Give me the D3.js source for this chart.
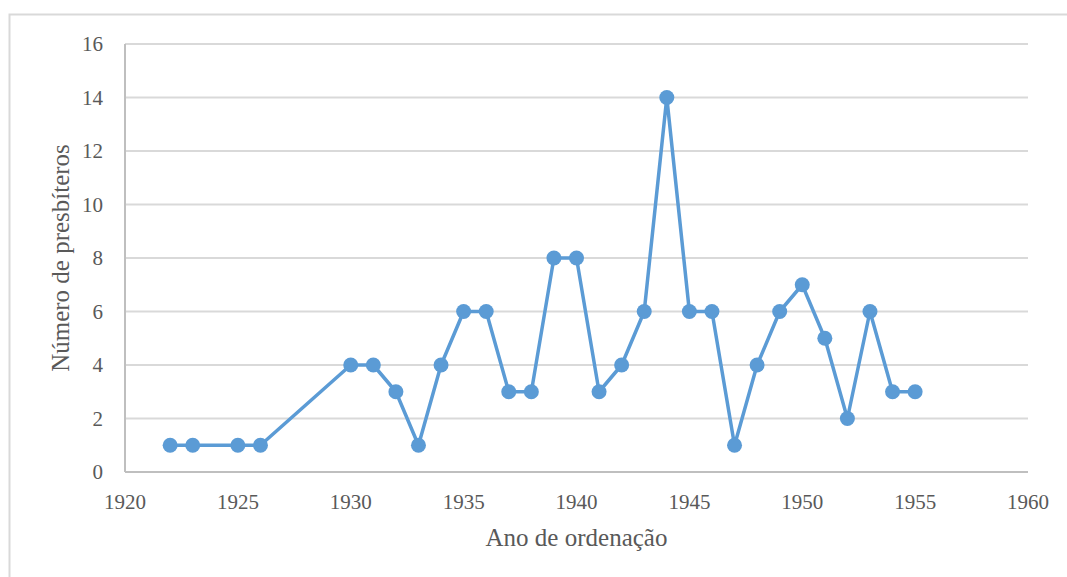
<!DOCTYPE html>
<html><head><meta charset="utf-8">
<script src="https://cdn.jsdelivr.net/npm/d3@7"></script>
<style>body{margin:0;background:#fff}svg{display:block}
text{font-family:"Liberation Serif","Times New Roman",Times,Tinos,"Nimbus Roman","Noto Serif","DejaVu Serif",serif}</style>
</head><body>
<svg id="c" width="1067" height="577"></svg>
<script>
const years = [1922,1923,1925,1926,1930,1931,1932,1933,1934,1935,1936,1937,1938,1939,1940,1941,1942,1943,1944,1945,1946,1947,1948,1949,1950,1951,1952,1953,1954,1955];
const counts = [1,1,1,1,4,4,3,1,4,6,6,3,3,8,8,3,4,6,14,6,6,1,4,6,7,5,2,6,3,3];
const xTicks = [1920,1925,1930,1935,1940,1945,1950,1955,1960];
const yTicks = [0,2,4,6,8,10,12,14,16];
const xTitle = "Ano de ordenação";
const yTitle = "Número de presbíteros";

const svg = d3.select("#c");
svg.append("rect").attr("x",9.5).attr("y",14.5).attr("width",1070).attr("height",580)
  .attr("fill","#fff").attr("stroke","#d9d9d9").attr("stroke-width",2);

const L=125, R=1028, T=44, B=472;
const x = d3.scaleLinear().domain([1920,1960]).range([L,R]);
const y = d3.scaleLinear().domain([0,16]).range([B,T]);

svg.append("g").selectAll("line").data(yTicks.filter(d=>d>0)).join("line")
  .attr("x1",L).attr("x2",R).attr("y1",d=>y(d)).attr("y2",d=>y(d))
  .attr("stroke","#d9d9d9").attr("stroke-width",2);

svg.append("line").attr("x1",L).attr("x2",R).attr("y1",B).attr("y2",B).attr("stroke","#bfbfbf").attr("stroke-width",2);
svg.append("line").attr("x1",L).attr("x2",L).attr("y1",T).attr("y2",B).attr("stroke","#bfbfbf").attr("stroke-width",2);

svg.append("g").selectAll("text").data(yTicks).join("text")
  .attr("x",103).attr("y",d=>y(d)).attr("dy","0.35em").attr("text-anchor","end")
  .attr("font-size",21).attr("fill","#595959").text(d=>d);
svg.append("g").selectAll("text").data(xTicks).join("text")
  .attr("x",d=>x(d)).attr("y",502).attr("dy","0.35em").attr("text-anchor","middle")
  .attr("font-size",21).attr("fill","#595959").text(d=>d);

svg.append("text").attr("x",(L+R)/2).attr("y",537).attr("dy","0.35em").attr("text-anchor","middle")
  .attr("font-size",25).attr("fill","#595959").text(xTitle);
svg.append("text").attr("transform",`translate(60,${(T+B)/2}) rotate(-90)`).attr("dy","0.35em").attr("text-anchor","middle")
  .attr("font-size",25).attr("fill","#595959").text(yTitle);

const data = years.map((d,i)=>({yr:d,v:counts[i]}));
svg.append("path").datum(data).attr("fill","none").attr("stroke","#5b9bd5").attr("stroke-width",3.5)
  .attr("stroke-linejoin","round")
  .attr("d",d3.line().x(d=>x(d.yr)).y(d=>y(d.v)));
svg.append("g").selectAll("circle").data(data).join("circle")
  .attr("cx",d=>x(d.yr)).attr("cy",d=>y(d.v)).attr("r",7.5).attr("fill","#5b9bd5");
</script>
</body></html>
